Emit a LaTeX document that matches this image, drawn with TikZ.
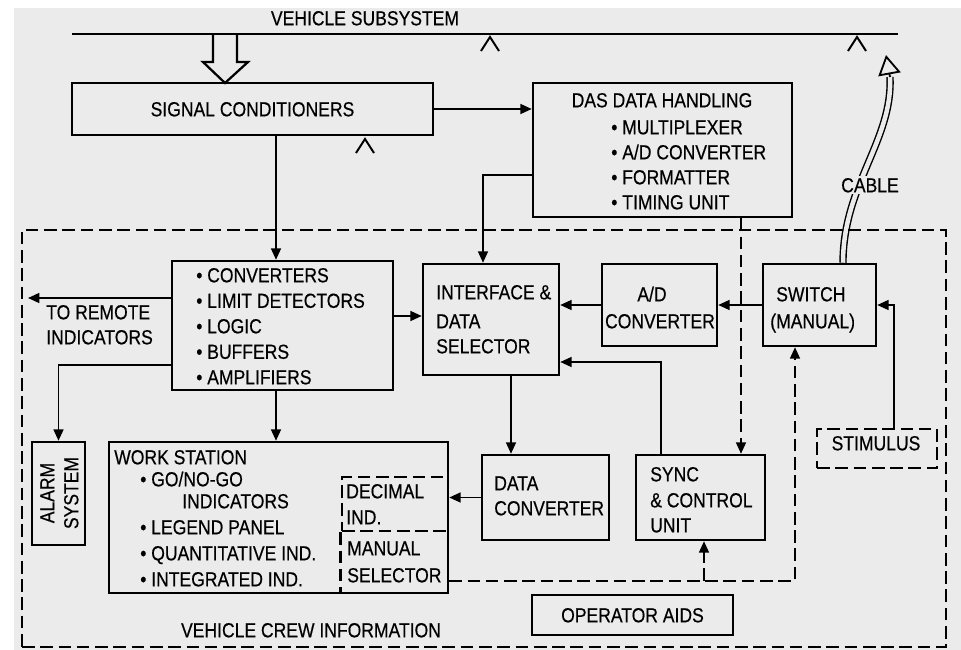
\documentclass[tikz,border=0pt]{standalone}
\usepackage{fontspec}
\setmainfont{Liberation Sans}[FakeStretch=0.86,FakeBold=0.4]
\usetikzlibrary{arrows.meta}
\usetikzlibrary{fit}
\usetikzlibrary{backgrounds}

\begin{document}
\begin{tikzpicture}[x=0.025cm,y=-0.025cm,
        txt/.style={font=\fontsize{14.5}{17.5}\selectfont, inner sep=0pt, text height=10.4pt, text depth=0pt},
        blk/.style={draw, line width=1.8pt, inner sep=0pt},
        dblk/.style={blk, dash pattern=on 9pt off 4pt},
        arr/.style={line width=1.2pt, -{Triangle[length=8pt,width=7pt]}},
        darr/.style={arr, dash pattern=on 9pt off 4pt},
        cable/.style={line width=1pt, double=black!8, double distance=3.2pt}]
        \useasboundingbox (0,0) rectangle (961,650);
        \begin{scope}[on background layer]
            \fill[black!8] (14,8) rectangle (961,650);
        \end{scope}

        % vehicle bus
        \coordinate (busl) at (72,34);
        \coordinate (busr) at (898,34);
        \draw[line width=1.5pt] (busl) -- (busr);
        \node[txt] (vs) at (365,18) {VEHICLE SUBSYSTEM};
        \foreach \x/\y in {490/37, 857/37, 365/139}
            \draw[line width=1.4pt] (\x-9,\y+14) -- (\x,\y) -- (\x+9,\y+14);
        \draw[line width=1.6pt, line join=miter] (213,34) -- (213,62) -- (203,62) -- (225,83) -- (248,62) -- (237,62) -- (237,34);

        % boxes
        \node[dblk, line width=2.1pt, fit={(22,230) (946,647)}] (crew) {};
        \node[blk, fit={(72,83) (433,135)}] (sc) {};
        \node[blk, fit={(533,83) (792,217)}] (das) {};
        \node[blk, fit={(172,261) (393,390)}] (conv) {};
        \node[blk, fit={(423,264) (559,375)}] (inter) {};
        \node[blk, fit={(602,264) (717,346)}] (ad) {};
        \node[blk, fit={(763,264) (876,346)}] (sw) {};
        \node[dblk, fit={(817,429) (937,468)}] (stim) {};
        \node[blk, fit={(32,442) (85,545)}] (alarm) {};
        \node[blk, fit={(109,442) (448,593)}] (ws) {};
        \node[dblk, fit={(342,477) (448,531)}] (dec) {};
        \draw[dblk] (dec.south west) -- (dec.south west |- ws.south);
        \node[blk, fit={(482,455) (609,540)}] (dconv) {};
        \node[blk, fit={(636,455) (765,540)}] (sync) {};
        \node[blk, fit={(532,595) (733,635)}] (aids) {};

        % guides
        \coordinate (xa) at (276,0);
        \coordinate (xb) at (483,0);
        \coordinate (xc) at (741,0);
        \coordinate (xd) at (511,0);
        \coordinate (xe) at (661,0);
        \coordinate (xf) at (704,0);
        \coordinate (xg) at (795,0);
        \coordinate (xh) at (894,0);
        \coordinate (xk) at (843,0);
        \coordinate (ya) at (0,175);
        \coordinate (yb) at (0,298);
        \coordinate (yc) at (0,365);
        \coordinate (yd) at (0,316);
        \coordinate (yf) at (0,362);
        \coordinate (yh) at (0,581);
        \coordinate (remote) at (28,298);
        \coordinate (cableend) at (890,77);
        \coordinate (cabletip) at (886,55);

        % connectors
        \draw[arr] (sc.east) -- (sc.east -| das.west);
        \draw[arr] (sc.south -| xa) -- (conv.north -| xa);
        \draw[arr] (das.west |- ya) -- (xb |- ya) -- (inter.north -| xb);
        \draw[darr] (das.south -| xc) -- (sync.north -| xc);
        \draw[arr] (conv.west |- yb) -- (remote);
        \draw[arr] (conv.west |- yc) -- (alarm.north |- yc) -- (alarm.north);
        \draw[arr] (conv.east |- yd) -- (inter.west |- yd);
        \draw[arr] (conv.south -| xa) -- (ws.north -| xa);
        \draw[arr] (ad.west) -- (ad.west -| inter.east);
        \draw[arr] (sw.west) -- (sw.west -| ad.east);
        \draw[arr] (stim.north -| xh) -- (xh |- sw.east) -- (sw.east);
        \draw[arr] (sync.north -| xe) -- (xe |- yf) -- (inter.east |- yf);
        \draw[arr] (inter.south -| xd) -- (dconv.north -| xd);
        \draw[arr] (dconv.west) -- (dconv.west -| ws.east);
        \draw[darr] (ws.east |- yh) -- (xg |- yh) -- (sw.south -| xg);
        \draw[darr] (xf |- yh) -- (sync.south -| xf);
        \begin{scope}[on background layer]
            \draw[cable] (sw.north -| xk) .. controls (843,185) and (893,140) .. (cableend);
        \end{scope}
        \draw[line width=1.3pt, line join=miter, -{Triangle[length=14pt,width=16pt,fill=black!8]}] (cableend) -- (cabletip);

        % texts
        \node[txt] (sctxt) at (sc) {SIGNAL CONDITIONERS};
        \node[txt] (dastitle) at (662,100) {DAS DATA HANDLING};
        \foreach \t [count=\i] in {MULTIPLEXER, A/D CONVERTER, FORMATTER, TIMING UNIT}
            \node[txt, anchor=west] (das\i) at (611,102+25*\i) {\textbullet\ \t};
        \foreach \t [count=\i] in {CONVERTERS, LIMIT DETECTORS, LOGIC, BUFFERS, AMPLIFIERS}
            \node[txt, anchor=west] (cv\i) at (196,249.5+25.5*\i) {\textbullet\ \t};
        \node[txt, anchor=west] (rem1) at (46,312) {TO REMOTE};
        \node[txt, anchor=west] (rem2) at (46,337) {INDICATORS};
        \node[txt, anchor=west] (int1) at (436,292) {INTERFACE \&};
        \node[txt, anchor=west] (int2) at (436,321) {DATA};
        \node[txt, anchor=west] (int3) at (436,346) {SELECTOR};
        \node[txt] (ad1) at (652,294) {A/D};
        \node[txt] (ad2) at (660,321) {CONVERTER};
        \node[txt, anchor=west] (sw1) at (776,294) {SWITCH};
        \node[txt, anchor=west] (sw2) at (770,321) {(MANUAL)};
        \node[txt] (stimtxt) at (876,443) {STIMULUS};
        \node[txt, fill=black!8, inner sep=1.5pt] (cabletxt) at (870,185) {CABLE};
        \node[txt, rotate=90] (al1) at (47,493) {ALARM};
        \node[txt, rotate=90] (al2) at (71,493) {SYSTEM};
        \node[txt, anchor=west] (wstitle) at (114,457) {WORK STATION};
        \node[txt, anchor=west] (ws1) at (140,479) {\textbullet\ GO/NO-GO};
        \node[txt, anchor=west] (ws1b) at (182,501) {INDICATORS};
        \foreach \t [count=\i] in {LEGEND PANEL, QUANTITATIVE IND., INTEGRATED IND.}
            \node[txt, anchor=west] (ws\i c) at (140,501+26*\i) {\textbullet\ \t};
        \node[txt, anchor=west] (dec1) at (346,491) {DECIMAL};
        \node[txt, anchor=west] (dec2) at (346,517) {IND.};
        \node[txt, anchor=west] (man1) at (347,548) {MANUAL};
        \node[txt, anchor=west] (man2) at (347,575) {SELECTOR};
        \node[txt, anchor=west] (dc1) at (494,483) {DATA};
        \node[txt, anchor=west] (dc2) at (494,508) {CONVERTER};
        \node[txt, anchor=west] (sy1) at (650,474) {SYNC};
        \node[txt, anchor=west] (sy2) at (650,500) {\& CONTROL};
        \node[txt, anchor=west] (sy3) at (650,525) {UNIT};
        \node[txt] (aidstxt) at (aids) {OPERATOR AIDS};
        \node[txt] (crewtxt) at (311,630) {VEHICLE CREW INFORMATION};
    \end{tikzpicture}
\end{document}
